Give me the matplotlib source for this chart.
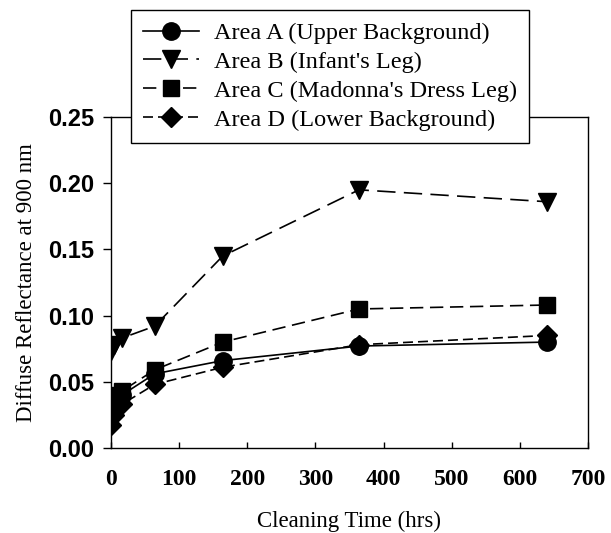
import matplotlib
matplotlib.use("Agg")
import matplotlib.pyplot as plt

# Cleaning time (hrs)
hours = [0, 4, 16, 64, 164, 364, 640]

# Diffuse reflectance at 900 nm for each area
area_a = [0.030, 0.035, 0.040, 0.056, 0.066, 0.077, 0.080]
area_b = [0.073, 0.078, 0.083, 0.092, 0.145, 0.195, 0.186]
area_c = [0.035, 0.040, 0.043, 0.059, 0.080, 0.105, 0.108]
area_d = [0.017, 0.025, 0.033, 0.048, 0.061, 0.078, 0.085]

labels = ["Area A (Upper Background)", "Area B (Infant's Leg)",
          "Area C (Madonna's Dress Leg)", "Area D (Lower Background)"]

serif = "Liberation Serif"
sans = "Liberation Sans"

fig = plt.figure(figsize=(6.11, 5.33), dpi=100)
ax = fig.add_axes([0.1817, 0.1595, 0.7806, 0.621])

ax.plot(hours, area_a, color="black", linestyle="-", linewidth=1.2,
        marker="o", markersize=12.5, label=labels[0])
ax.plot(hours, area_b, color="black", linestyle=(0, (11, 5)), linewidth=1.2,
        marker="v", markersize=13, label=labels[1])
ax.plot(hours, area_c, color="black", linestyle=(0, (8, 4)), linewidth=1.2,
        marker="s", markersize=11, label=labels[2])
ax.plot(hours, area_d, color="black", linestyle=(0, (6, 3)), linewidth=1.2,
        marker="D", markersize=10, label=labels[3])

ax.set_xlim(0, 700)
ax.set_ylim(0, 0.25)
ax.set_xticks(range(0, 701, 100))
ax.set_yticks([0.0, 0.05, 0.10, 0.15, 0.20, 0.25])
ax.set_yticklabels(["0.00", "0.05", "0.10", "0.15", "0.20", "0.25"],
                   fontfamily=sans, fontweight="bold", fontsize=17)
ax.set_xticklabels([str(v) for v in range(0, 701, 100)],
                   fontfamily=serif, fontweight="bold", fontsize=17)
ax.tick_params(axis="y", direction="out", length=6, width=1, pad=6)
ax.tick_params(axis="x", direction="in", length=4, width=1, pad=15)

ax.set_xlabel("Cleaning Time (hrs)", fontfamily=serif, fontsize=16.5, labelpad=15)
ax.set_ylabel("Diffuse Reflectance at 900 nm", fontfamily=serif, fontsize=16.5, labelpad=8)

for s in ax.spines.values():
    s.set_linewidth(1)

leg = ax.legend(loc="upper left", bbox_to_anchor=(131 / 611, 1 - 10 / 533),
                bbox_transform=fig.transFigure, frameon=True, fancybox=False,
                edgecolor="black", framealpha=1, borderaxespad=0,
                prop={"family": serif, "size": 17.5}, handlelength=2.3,
                labelspacing=0.28, borderpad=0.5, handletextpad=0.6)
leg.get_frame().set_linewidth(1)

fig.savefig("out.png", dpi=100)
